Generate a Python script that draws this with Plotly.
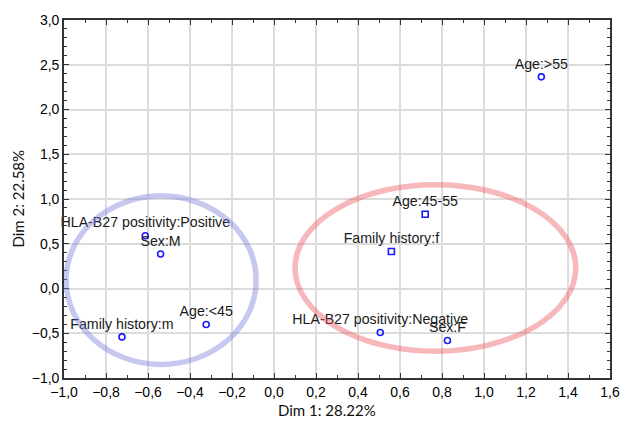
import plotly.graph_objects as go

# Category coordinates on the first two dimensions
labels = [
    "HLA-B27 positivity:Positive",
    "Sex:M",
    "Age:<45",
    "Family history:m",
    "Age:45-55",
    "Family history:f",
    "HLA-B27 positivity:Negative",
    "Sex:F",
    "Age:>55",
]
dim1 = [-0.613, -0.540, -0.323, -0.724, 0.720, 0.559, 0.506, 0.826, 1.273]
dim2 = [0.589, 0.386, -0.403, -0.541, 0.830, 0.414, -0.492, -0.581, 2.365]
symbols = ["circle-open", "circle-open", "circle-open", "circle-open",
           "square-open", "square-open", "circle-open", "circle-open", "circle-open"]

# Group ellipses as bounding boxes: [x0, x1, y0, y1]
ellipse_blue = [-0.99, -0.085, -0.848, 1.035]
ellipse_red = [0.10, 1.437, -0.70, 1.16]

x_ticks = [-1.0, -0.8, -0.6, -0.4, -0.2, 0.0, 0.2, 0.4, 0.6, 0.8, 1.0, 1.2, 1.4, 1.6]
y_ticks = [-1.0, -0.5, 0.0, 0.5, 1.0, 1.5, 2.0, 2.5, 3.0]

fig = go.Figure()

fig.add_trace(go.Scatter(
    x=dim1, y=dim2, mode="markers+text",
    text=labels, textposition="top center",
    textfont=dict(family="Liberation Sans, Arial", size=14.2, color="#1a1a1a"),
    marker=dict(symbol=symbols, size=6, color="#1a1aff", line=dict(width=1.6, color="#1a1aff")),
    showlegend=False, cliponaxis=False,
))

for box, col in [(ellipse_blue, "rgba(120,125,220,0.42)"), (ellipse_red, "rgba(235,85,95,0.42)")]:
    fig.add_shape(type="circle", xref="x", yref="y",
                  x0=box[0], x1=box[1], y0=box[2], y1=box[3],
                  line=dict(color=col, width=5.5), layer="above")

axis_common = dict(
    showline=True, linecolor="#333333", linewidth=1.6, mirror="ticks",
    ticks="inside", ticklen=5, tickwidth=1.2, tickcolor="#333333",
    showgrid=True, gridcolor="#dcdcdc", gridwidth=1.5, zeroline=False,
    tickfont=dict(family="Liberation Sans, Arial", size=14, color="#000000"),
    tickformat=".1f",
)

fig.update_xaxes(range=[-1.0, 1.6], tickvals=x_ticks,
                 minor=dict(dtick=0.1, tick0=-1.0, ticks="inside", ticklen=3,
                            tickcolor="#333333", showgrid=False),
                 **axis_common)
fig.update_yaxes(range=[-1.0, 3.0], tickvals=y_ticks,
                 minor=dict(dtick=0.1, tick0=-1.0, ticks="inside", ticklen=3,
                            tickcolor="#333333", showgrid=False),
                 **axis_common)

fig.add_annotation(text="Dim 1: 28.22%", xref="paper", yref="paper",
                   x=0.482, y=-0.088, xanchor="center", yanchor="middle",
                   showarrow=False,
                   font=dict(family="Lato", size=15, color="#111111"))
fig.add_annotation(text="Dim 2: 22.58%", xref="paper", yref="paper",
                   x=-0.085, y=0.5, xanchor="center", yanchor="middle",
                   textangle=-90, showarrow=False,
                   font=dict(family="Lato", size=15, color="#111111"))

fig.update_layout(
    width=632, height=425,
    margin=dict(l=64, r=12, t=16, b=47),
    paper_bgcolor="white", plot_bgcolor="white",
    separators=", ",
)

fig.write_html("out.html")
